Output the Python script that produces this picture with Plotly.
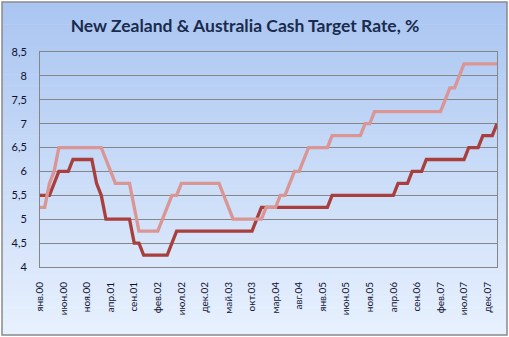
import plotly.graph_objects as go

# ---- data ----
month_names = ['янв', 'фев', 'мар', 'апр', 'май', 'июн', 'июл', 'авг', 'сен', 'окт', 'ноя', 'дек']
years = ['00', '01', '02', '03', '04', '05', '06', '07', '08']
categories = [f"{m}.{y}" for y in years for m in month_names][:98]
tick_step = 5

australia = [
    5.5, 5.5, 5.5, 5.75, 6.0, 6.0, 6.0, 6.25, 6.25, 6.25, 6.25, 6.25,      # 2000
    5.75, 5.5, 5.0, 5.0, 5.0, 5.0, 5.0, 5.0, 4.5, 4.5, 4.25, 4.25,         # 2001
    4.25, 4.25, 4.25, 4.25, 4.5, 4.75, 4.75, 4.75, 4.75, 4.75, 4.75, 4.75, # 2002
    4.75, 4.75, 4.75, 4.75, 4.75, 4.75, 4.75, 4.75, 4.75, 4.75, 5.0, 5.25, # 2003
    5.25, 5.25, 5.25, 5.25, 5.25, 5.25, 5.25, 5.25, 5.25, 5.25, 5.25, 5.25, # 2004
    5.25, 5.25, 5.5, 5.5, 5.5, 5.5, 5.5, 5.5, 5.5, 5.5, 5.5, 5.5,          # 2005
    5.5, 5.5, 5.5, 5.5, 5.75, 5.75, 5.75, 6.0, 6.0, 6.0, 6.25, 6.25,       # 2006
    6.25, 6.25, 6.25, 6.25, 6.25, 6.25, 6.25, 6.5, 6.5, 6.5, 6.75, 6.75,   # 2007
    6.75, 7.0,                                                             # 2008
]

new_zealand = [
    5.25, 5.25, 5.75, 6.0, 6.5, 6.5, 6.5, 6.5, 6.5, 6.5, 6.5, 6.5,         # 2000
    6.5, 6.5, 6.25, 6.0, 5.75, 5.75, 5.75, 5.75, 5.25, 4.75, 4.75, 4.75,   # 2001
    4.75, 4.75, 5.0, 5.25, 5.5, 5.5, 5.75, 5.75, 5.75, 5.75, 5.75, 5.75,   # 2002
    5.75, 5.75, 5.75, 5.5, 5.25, 5.0, 5.0, 5.0, 5.0, 5.0, 5.0, 5.0,        # 2003
    5.25, 5.25, 5.25, 5.5, 5.5, 5.75, 6.0, 6.0, 6.25, 6.5, 6.5, 6.5,       # 2004
    6.5, 6.5, 6.75, 6.75, 6.75, 6.75, 6.75, 6.75, 6.75, 7.0, 7.0, 7.25,    # 2005
    7.25, 7.25, 7.25, 7.25, 7.25, 7.25, 7.25, 7.25, 7.25, 7.25, 7.25, 7.25, # 2006
    7.25, 7.25, 7.5, 7.75, 7.75, 8.0, 8.25, 8.25, 8.25, 8.25, 8.25, 8.25,  # 2007
    8.25, 8.25,                                                            # 2008
]

y_ticks = [4, 4.5, 5, 5.5, 6, 6.5, 7, 7.5, 8, 8.5]
title_text = "New Zealand &amp; Australia Cash Target Rate, %"

# ---- layout geometry ----
W, H = 509, 337
L, R, T, B = 40, 12, 52, 70
pw, ph = W - L - R, H - T - B

def px_to_paper_x(px):
    return (px - L) / pw

def px_to_paper_y(py):
    return (H - B - py) / ph

fig = go.Figure()

fig.add_trace(go.Scatter(
    x=categories, y=australia, mode="lines", name="Australia",
    line=dict(color="#A93F3C", width=3.3), hoverinfo="skip",
))
fig.add_trace(go.Scatter(
    x=categories, y=new_zealand, mode="lines", name="New Zealand",
    line=dict(color="#D99694", width=3.3), hoverinfo="skip",
))

# background gradient (chart area) using bands
shapes = []
top_c = (169, 197, 241)
bot_c = (232, 241, 254)
fx0, fx1, fy0, fy1 = 2, 507, 2, 335
n = 60
for k in range(n):
    y0 = fy0 + (fy1 - fy0) * k / n
    y1 = fy0 + (fy1 - fy0) * (k + 1) / n + 0.6
    t = (k + 0.5) / n
    c = tuple(round(top_c[j] + (bot_c[j] - top_c[j]) * t) for j in range(3))
    shapes.append(dict(
        type="rect", xref="paper", yref="paper", layer="below",
        x0=px_to_paper_x(fx0), x1=px_to_paper_x(fx1),
        y0=px_to_paper_y(y1), y1=px_to_paper_y(y0),
        line=dict(width=0), fillcolor=f"rgb{c}",
    ))
shapes.append(dict(
    type="rect", xref="paper", yref="paper", layer="below",
    x0=px_to_paper_x(fx0), x1=px_to_paper_x(fx1),
    y0=px_to_paper_y(fy1), y1=px_to_paper_y(fy0),
    line=dict(color="#8A8A8A", width=1.5), fillcolor="rgba(0,0,0,0)",
))

fig.update_layout(
    width=W, height=H,
    margin=dict(l=L, r=R, t=T, b=B),
    paper_bgcolor="white",
    plot_bgcolor="rgba(0,0,0,0)",
    separators=", ",
    showlegend=False,
    shapes=shapes,
    title=dict(
        text=f"<b>{title_text}</b>",
        x=245 / W, xref="container", xanchor="center",
        y=1 - 26 / H, yref="container", yanchor="middle",
        font=dict(family="Lato", size=17.5, color="#1B2B4D"),
    ),
)

fig.update_xaxes(
    type="category",
    tickvals=categories[::tick_step],
    ticktext=categories[::tick_step],
    tickangle=-90,
    tickfont=dict(family="Lato", size=10, color="#101030"),
    showgrid=False,
    showline=True, mirror=True, linecolor="#868686", linewidth=1,
    ticks="", ticklabelstandoff=10,
    zeroline=False,
)
fig.update_yaxes(
    range=[4, 8.5],
    tickvals=y_ticks,
    tickfont=dict(family="Lato", size=11, color="#101030"),
    showgrid=True, gridcolor="#868686", gridwidth=1,
    showline=True, mirror=True, linecolor="#868686", linewidth=1,
    ticks="", ticklabelstandoff=10,
    zeroline=False,
)

fig.write_html("out.html")
